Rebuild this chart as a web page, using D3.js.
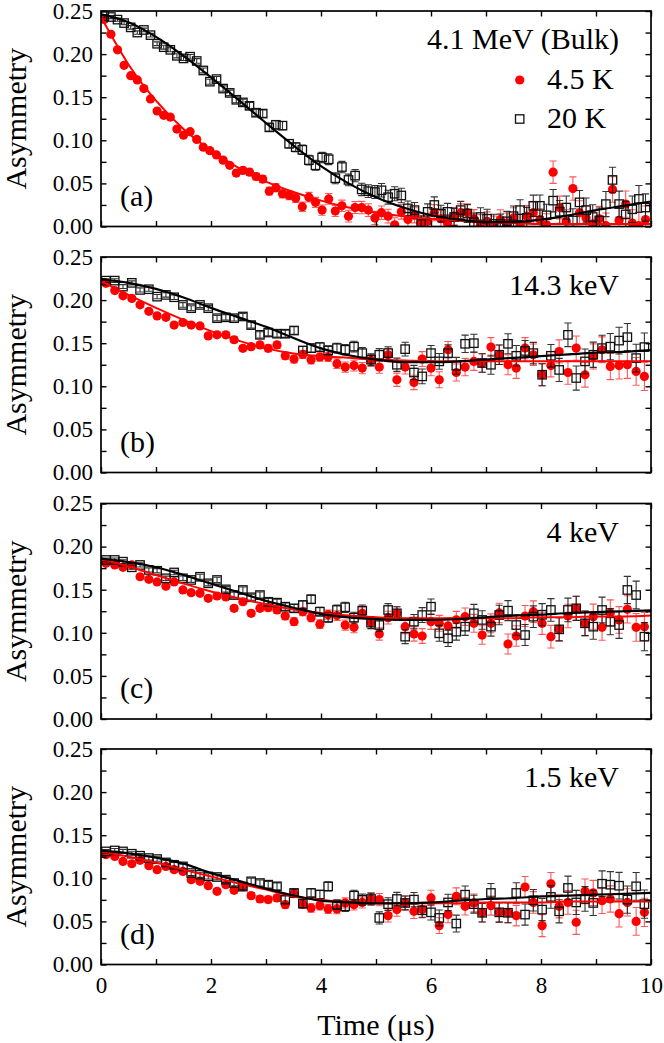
<!DOCTYPE html>
<html>
<head>
<meta charset="utf-8">
<script src="https://cdn.jsdelivr.net/npm/d3@7"></script>
<style>
html,body{margin:0;padding:0;background:#fff;}
svg{display:block;}
text{font-family:"Liberation Serif","Times New Roman",serif;fill:#000;}
</style>
</head>
<body>
<script>
// ---------------- DATA ----------------
const panelLabels = ["(a)", "(b)", "(c)", "(d)"];
const panelNotes = ["4.1 MeV (Bulk)", "14.3 keV", "4 keV", "1.5 keV"];
const legendLabels = ["4.5 K", "20 K"];
const xTitle = "Time (\u03bcs)";
const yTitle = "Asymmetry";

const xTickValues = [0,1,2,3,4,5,6,7,8,9,10];
const xLabelValues = [0,2,4,6,8,10];
const xTickLabels = ["0","2","4","6","8","10"];
const yTickValues = [0,0.025,0.05,0.075,0.1,0.125,0.15,0.175,0.2,0.225,0.25];
const yLabelValues = [0,0.05,0.1,0.15,0.2,0.25];
const yTickLabels = ["0.00","0.05","0.10","0.15","0.20","0.25"];

// panel (a): bulk
const timeA = [0.06,0.18,0.30,0.42,0.54,0.66,0.78,0.90,1.02,1.14,
1.26,1.38,1.50,1.62,1.74,1.86,1.98,2.10,2.22,2.34,
2.46,2.58,2.70,2.82,2.94,3.06,3.18,3.30,3.42,3.54,
3.66,3.78,3.90,4.02,4.14,4.26,4.38,4.50,4.62,4.74,
4.86,4.98,5.10,5.22,5.34,5.46,5.58,5.70,5.82,5.94,
6.06,6.18,6.30,6.42,6.54,6.66,6.78,6.90,7.02,7.14,
7.26,7.38,7.50,7.62,7.74,7.86,7.98,8.10,8.22,8.34,
8.46,8.58,8.70,8.82,8.94,9.06,9.18,9.30,9.42,9.54,
9.66,9.78,9.90];
const redA = [0.240,0.223,0.205,0.187,0.175,0.170,0.160,0.148,0.134,0.129,
0.127,0.113,0.106,0.110,0.101,0.092,0.088,0.083,0.077,0.071,
0.062,0.065,0.063,0.058,0.055,0.041,0.045,0.038,0.036,0.033,
0.023,0.034,0.028,0.019,0.032,0.018,0.024,0.012,0.022,0.022,
0.019,0.010,0.016,0.012,0.002,0.017,0.008,0.013,0.004,0.006,
0.016,0.009,0.004,0.012,0.016,0.016,0.009,0.003,0.006,0.001,
0.008,0.004,0.010,0.002,0.012,0.016,0.008,0.002,0.063,0.022,
0.006,0.044,0.016,0.010,0.003,0.009,0.001,0.043,0.007,0.026,
0.004,0.001,0.008];
const blackA = [0.244,0.243,0.240,0.236,0.231,0.225,0.228,0.222,0.212,0.208,
0.205,0.198,0.195,0.197,0.192,0.181,0.168,0.171,0.160,0.155,
0.147,0.144,0.140,0.132,0.131,0.115,0.118,0.117,0.096,0.092,
0.089,0.077,0.071,0.080,0.078,0.056,0.069,0.054,0.059,0.043,
0.041,0.040,0.042,0.034,0.038,0.036,0.021,0.019,0.003,0.017,
0.025,0.015,0.017,0.011,0.019,0.015,0.005,0.011,0.009,0.003,
0.003,0.006,0.012,0.019,0.010,0.024,0.024,0.013,0.030,0.017,
0.022,0.007,0.028,0.019,0.011,0.007,0.026,0.054,0.026,0.014,
0.020,0.032,0.022];
const errA = [0.0018,0.0018,0.0019,0.0019,0.0020,0.0020,0.0021,0.0021,0.0022,0.0022,
0.0023,0.0024,0.0025,0.0026,0.0027,0.0028,0.0029,0.0030,0.0031,0.0032,
0.0034,0.0036,0.0038,0.0040,0.0042,0.0044,0.0046,0.0048,0.0050,0.0052,
0.0054,0.0056,0.0058,0.0060,0.0062,0.0064,0.0066,0.0068,0.0070,0.0072,
0.0074,0.0076,0.0078,0.0080,0.0082,0.0084,0.0086,0.0088,0.0090,0.0092,
0.0094,0.0096,0.0098,0.0100,0.0102,0.0104,0.0106,0.0108,0.0110,0.0112,
0.0114,0.0116,0.0118,0.0120,0.0122,0.0124,0.0126,0.0128,0.0130,0.0132,
0.0134,0.0136,0.0138,0.0140,0.0142,0.0144,0.0146,0.0148,0.0150,0.0152,
0.0154,0.0156,0.0158];

// panels (b)-(d): low energy
const timeLE = [0.09,0.25,0.40,0.56,0.71,0.87,1.02,1.18,1.33,1.49,
1.64,1.80,1.95,2.11,2.27,2.42,2.58,2.73,2.89,3.04,
3.20,3.35,3.51,3.67,3.82,3.98,4.13,4.29,4.44,4.60,
4.75,4.91,5.06,5.22,5.38,5.53,5.69,5.84,6.00,6.15,
6.31,6.46,6.62,6.78,6.93,7.09,7.24,7.40,7.55,7.71,
7.86,8.02,8.18,8.33,8.49,8.64,8.80,8.95,9.11,9.26,
9.42,9.57,9.73,9.88];
const errLE = [0.0022,0.0022,0.0023,0.0023,0.0024,0.0024,0.0025,0.0026,0.0026,0.0027,
0.0028,0.0029,0.0030,0.0031,0.0032,0.0033,0.0034,0.0035,0.0036,0.0038,
0.0040,0.0042,0.0044,0.0046,0.0048,0.0050,0.0053,0.0056,0.0059,0.0062,
0.0065,0.0068,0.0071,0.0074,0.0077,0.0080,0.0083,0.0086,0.0089,0.0092,
0.0095,0.0098,0.0101,0.0104,0.0107,0.0110,0.0113,0.0116,0.0119,0.0122,
0.0125,0.0128,0.0131,0.0134,0.0137,0.0140,0.0143,0.0146,0.0149,0.0152,
0.0155,0.0158,0.0161,0.0164];

const redB = [0.2195,0.211,0.205,0.202,0.1945,0.187,0.1817,0.180,0.171,0.174,
0.171,0.170,0.1585,0.1597,0.1597,0.154,0.144,0.146,0.148,0.144,
0.148,0.1354,0.1316,0.137,0.1308,0.134,0.134,0.1262,0.1223,0.124,
0.1211,0.130,0.1223,0.1366,0.1076,0.1223,0.1045,0.1316,0.1211,0.1076,
0.1424,0.116,0.1223,0.1289,0.127,0.1455,0.1366,0.125,0.1211,0.1443,
0.1366,0.1134,0.124,0.1404,0.116,0.1443,0.1134,0.1346,0.1424,0.123,
0.124,0.125,0.1173,0.1115];
const blackB = [0.2226,0.2226,0.2157,0.220,0.2118,0.2126,0.204,0.206,0.2033,0.1944,
0.1906,0.1944,0.1906,0.179,0.180,0.179,0.181,0.171,0.1597,0.1624,
0.161,0.161,0.1647,0.1416,0.1443,0.1455,0.1416,0.1443,0.1424,0.146,
0.1385,0.1308,0.1366,0.1385,0.125,0.1431,0.116,0.1115,0.1385,0.1289,
0.1385,0.1238,0.1493,0.150,0.127,0.125,0.1366,0.1493,0.1354,0.141,
0.1385,0.1134,0.1354,0.119,0.1597,0.1096,0.1289,0.1366,0.1443,0.146,
0.153,0.157,0.1327,0.1455];

const redC = [0.1806,0.1787,0.176,0.1787,0.165,0.162,0.159,0.154,0.159,0.1497,
0.1466,0.1458,0.140,0.1427,0.1416,0.1284,0.136,0.1226,0.1284,0.1292,
0.1265,0.1195,0.1129,0.1245,0.1176,0.110,0.121,0.120,0.109,0.1063,
0.1226,0.1117,0.0986,0.1176,0.1226,0.1071,0.0986,0.0963,0.1129,0.111,
0.108,0.115,0.1187,0.111,0.0974,0.111,0.123,0.087,0.0963,0.1195,
0.1245,0.111,0.0955,0.104,0.1195,0.1284,0.111,0.1187,0.1063,0.123,
0.1149,0.1272,0.1063,0.1071];
const blackC = [0.1845,0.1845,0.1825,0.176,0.1787,0.1729,0.172,0.1632,0.170,0.1632,
0.1613,0.165,0.1574,0.1613,0.1504,0.1438,0.1497,0.1412,0.1438,0.136,
0.135,0.1303,0.1284,0.1323,0.1389,0.1245,0.1176,0.1265,0.1296,0.1176,
0.1257,0.1117,0.109,0.1265,0.1226,0.0955,0.1129,0.1206,0.1303,0.0994,
0.0936,0.1013,0.1071,0.1226,0.1149,0.1071,0.1206,0.1257,0.109,0.0974,
0.1187,0.121,0.1265,0.104,0.1265,0.1284,0.111,0.1071,0.1265,0.1129,
0.109,0.1497,0.1438,0.0955];

const redD = [0.1273,0.1254,0.1196,0.1169,0.1208,0.1146,0.110,0.1138,0.110,0.108,
0.0984,0.0965,0.0914,0.0849,0.0926,0.086,0.0903,0.0799,0.076,0.0753,
0.0772,0.0694,0.0822,0.070,0.0656,0.0683,0.0645,0.0645,0.0714,0.0694,
0.072,0.076,0.0753,0.0567,0.0637,0.0714,0.0617,0.0637,0.0772,0.0451,
0.0579,0.0791,0.0675,0.0714,0.060,0.0683,0.0605,0.060,0.0567,0.0899,
0.072,0.0451,0.0937,0.0675,0.072,0.049,0.0849,0.083,0.074,0.076,
0.059,0.072,0.050,0.0605];
const blackD = [0.1312,0.1323,0.1312,0.1285,0.1262,0.1235,0.1223,0.1184,0.1157,0.1138,
0.1061,0.1042,0.1022,0.1015,0.0984,0.0945,0.0903,0.0965,0.0945,0.0926,
0.0907,0.0752,0.083,0.0706,0.083,0.0811,0.0906,0.0694,0.0675,0.0799,
0.0753,0.076,0.054,0.070,0.076,0.0714,0.0753,0.0629,0.0605,0.054,
0.072,0.0475,0.081,0.070,0.060,0.083,0.0605,0.060,0.083,0.0579,
0.0745,0.0637,0.0784,0.0617,0.0888,0.072,0.076,0.0714,0.0937,0.0926,
0.0914,0.0753,0.0907,0.070];

// fitted curves, read at these times
const fitTime = [0,0.5,1,1.5,2,2.5,3,3.5,4,4.5,5,5.5,6,6.5,7,7.5,8,8.5,9,9.5,10];
const fitRedA   = [0.243,0.188,0.146,0.113,0.088,0.068,0.052,0.040,0.030,0.022,0.016,0.012,0.009,0.007,0.005,0.004,0.003,0.003,0.003,0.003,0.003];
const fitBlackA = [0.246,0.237,0.220,0.198,0.173,0.147,0.120,0.094,0.070,0.050,0.034,0.022,0.013,0.008,0.005,0.005,0.008,0.013,0.019,0.024,0.029];
const fitRedB   = [0.222,0.206,0.191,0.177,0.164,0.153,0.144,0.138,0.135,0.133,0.131,0.130,0.129,0.129,0.129,0.129,0.129,0.129,0.129,0.129,0.129];
const fitBlackB = [0.224,0.220,0.213,0.203,0.191,0.180,0.169,0.156,0.144,0.136,0.131,0.128,0.128,0.129,0.131,0.133,0.135,0.137,0.139,0.140,0.142];
const fitRedC   = [0.186,0.177,0.167,0.157,0.148,0.140,0.133,0.127,0.123,0.120,0.118,0.117,0.117,0.117,0.117,0.117,0.118,0.118,0.119,0.119,0.120];
const fitBlackC = [0.186,0.182,0.176,0.167,0.157,0.147,0.137,0.129,0.122,0.118,0.116,0.115,0.115,0.116,0.118,0.120,0.121,0.123,0.124,0.125,0.126];
const fitRedD   = [0.131,0.125,0.118,0.110,0.102,0.094,0.087,0.079,0.075,0.072,0.071,0.071,0.071,0.071,0.072,0.072,0.072,0.073,0.073,0.073,0.073];
const fitBlackD = [0.132,0.129,0.124,0.117,0.106,0.097,0.088,0.080,0.074,0.072,0.071,0.071,0.072,0.074,0.076,0.077,0.079,0.080,0.081,0.082,0.083];

const panels = [
  {time: timeA,  err: errA,  red: redA, black: blackA, fitRed: fitRedA, fitBlack: fitBlackA},
  {time: timeLE, err: errLE, red: redB, black: blackB, fitRed: fitRedB, fitBlack: fitBlackB},
  {time: timeLE, err: errLE, red: redC, black: blackC, fitRed: fitRedC, fitBlack: fitBlackC},
  {time: timeLE, err: errLE, red: redD, black: blackD, fitRed: fitRedD, fitBlack: fitBlackD}
];

// ---------------- LAYOUT ----------------
const W = 664, H = 1043;
const xL = 101, xR = 651;
const tops = [11, 257, 503.5, 749];
const ph = 215.5;
const RED = "#ff0000";
const R = 4.6, SQ = 8.4;

const svg = d3.select("body").append("svg").attr("width", W).attr("height", H);
svg.append("rect").attr("width", W).attr("height", H).attr("fill", "#fff");

const x = d3.scaleLinear().domain([0, 10]).range([xL, xR]);

function labelOf(vals, labels, d) {
  const i = vals.findIndex(v => Math.abs(v - d) < 1e-9);
  return i >= 0 ? labels[i] : "";
}

panels.forEach((p, pi) => {
  const top = tops[pi], bot = top + ph;
  const y = d3.scaleLinear().domain([0, 0.25]).range([bot, top]);
  const clipId = "clip" + pi;
  svg.append("clipPath").attr("id", clipId)
    .append("rect").attr("x", xL).attr("y", top).attr("width", xR - xL).attr("height", ph);
  const g = svg.append("g").attr("clip-path", `url(#${clipId})`);

  const red = p.time.map((t, i) => ({t, v: p.red[i], e: p.err[i]}));
  const blk = p.time.map((t, i) => ({t, v: p.black[i], e: p.err[i]}));

  function errBars(data, color, op) {
    const eg = g.append("g").attr("stroke", color).attr("stroke-width", 1.1).attr("opacity", op).attr("fill", "none");
    eg.selectAll("path").data(data).join("path")
      .attr("d", d => {
        const cx = x(d.t), y1 = y(d.v + d.e), y2 = y(d.v - d.e), c = 3.6;
        return `M${cx},${y1}V${y2}M${cx - c},${y1}H${cx + c}M${cx - c},${y2}H${cx + c}`;
      });
  }

  errBars(red, RED, 0.65);
  g.append("g").selectAll("circle").data(red).join("circle")
    .attr("cx", d => x(d.t)).attr("cy", d => y(d.v)).attr("r", R).attr("fill", RED);

  errBars(blk, "#111", 0.85);
  g.append("g").selectAll("rect").data(blk).join("rect")
    .attr("x", d => x(d.t) - SQ / 2).attr("y", d => y(d.v) - SQ / 2)
    .attr("width", SQ).attr("height", SQ)
    .attr("fill", "none").attr("stroke", "#111").attr("stroke-width", 1.3);

  const line = d3.line().x((d, i) => x(fitTime[i])).y(d => y(d)).curve(d3.curveMonotoneX);
  g.append("path").attr("d", line(p.fitRed)).attr("fill", "none").attr("stroke", RED).attr("stroke-width", 2);
  g.append("path").attr("d", line(p.fitBlack)).attr("fill", "none").attr("stroke", "#000").attr("stroke-width", 2.2);

  // axes (inward ticks)
  const axL = d3.axisLeft(y).tickValues(yTickValues).tickSizeInner(-5.5).tickSizeOuter(0).tickPadding(8)
    .tickFormat(d => labelOf(yLabelValues, yTickLabels, d));
  const axR = d3.axisRight(y).tickValues(yTickValues).tickSizeInner(-5.5).tickSizeOuter(0).tickFormat("");
  const axT = d3.axisTop(x).tickValues(xTickValues).tickSizeInner(-5.5).tickSizeOuter(0).tickFormat("");
  const axB = d3.axisBottom(x).tickValues(xTickValues).tickSizeInner(-5.5).tickSizeOuter(0).tickPadding(12)
    .tickFormat(d => pi === 3 ? labelOf(xLabelValues, xTickLabels, d) : "");

  const gl = svg.append("g").attr("transform", `translate(${xL},0)`).call(axL);
  const gr = svg.append("g").attr("transform", `translate(${xR},0)`).call(axR);
  const gt = svg.append("g").attr("transform", `translate(0,${top})`).call(axT);
  const gb = svg.append("g").attr("transform", `translate(0,${bot})`).call(axB);
  [gl, gr, gt, gb].forEach(a => {
    a.select(".domain").remove();
    a.selectAll(".tick line").attr("stroke", "#000").attr("stroke-width", 1.4);
    a.selectAll("text").attr("font-family", '"Liberation Serif", serif').attr("font-size", 23).attr("fill", "#000");
  });

  svg.append("rect").attr("x", xL).attr("y", top).attr("width", xR - xL).attr("height", ph)
    .attr("fill", "none").attr("stroke", "#000").attr("stroke-width", 1.7);

  // y title
  const cy = top + ph / 2;
  svg.append("text").attr("transform", `translate(26,${cy}) rotate(-90)`)
    .attr("text-anchor", "middle").attr("font-size", 30).text(yTitle);

  // panel label
  svg.append("text").attr("x", 120).attr("y", bot - 21).attr("font-size", 30).text(panelLabels[pi]);
  // annotation
  svg.append("text").attr("x", 619).attr("y", top + 38).attr("text-anchor", "end")
    .attr("font-size", 30).text(panelNotes[pi]);

  if (pi === 0) {
    svg.append("circle").attr("cx", 519.7).attr("cy", top + 69).attr("r", R).attr("fill", RED);
    svg.append("text").attr("x", 547).attr("y", top + 78).attr("font-size", 30).text(legendLabels[0]);
    svg.append("rect").attr("x", 519.7 - SQ / 2).attr("y", top + 108 - SQ / 2).attr("width", SQ).attr("height", SQ)
      .attr("fill", "none").attr("stroke", "#111").attr("stroke-width", 1.3);
    svg.append("text").attr("x", 547).attr("y", top + 117).attr("font-size", 30).text(legendLabels[1]);
  }
});

svg.append("text").attr("x", (xL + xR) / 2).attr("y", 1035).attr("text-anchor", "middle")
  .attr("font-size", 30).text(xTitle);
</script>
</body>
</html>
